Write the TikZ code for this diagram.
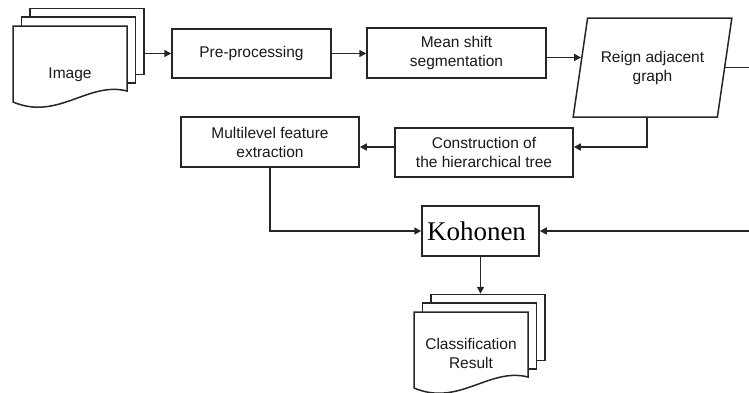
\documentclass[tikz,border=0pt]{standalone}
\usepackage{fontspec}
\setmainfont{Liberation Sans}
\newfontfamily\serifkoh{Liberation Serif}
\usetikzlibrary{shapes.geometric,arrows.meta,calc}

% stack of three pages: name, top left of the front page, text height, text
\newcommand\docstack[4]{%
  \begin{scope}[shift={#2}]
    \node[page] (#1-back) at (74,15.5) {};
    \node[page] (#1-mid) at (65.5,24) {};
    \filldraw[frame] (0,0) -- (114,0) -- (114,65)
      .. controls (75,55) and (45,95) .. (0,76) -- cycle;
    \node[doctext] (#1) at (57,#3) {#4};
  \end{scope}}

\begin{document}
\begin{tikzpicture}[x=1pt, y=-1pt,
    frame/.style={draw=black!85, line width=1.5pt, fill=white},
    box/.style={frame, rectangle, minimum height=49pt, align=center, text=black!90, font=\fontsize{15.5}{19}\selectfont},
    page/.style={frame, rectangle, minimum width=114pt, minimum height=66pt},
    doctext/.style={align=center, text=black!90, font=\fontsize{15.5}{19}\selectfont},
    arr/.style={draw=black!85, line width=1.5pt, -{Triangle[length=7pt,width=7pt]}}
  ]
  \useasboundingbox (0,0) rectangle (749,392);

  \docstack{img}{(13,26)}{49}{Image}
  \node[box, minimum width=159pt] (pre) at (251.5,53.5) {Pre-processing};
  \node[box, minimum width=179pt, minimum height=50pt] (mean) at (456.5,53) {Mean shift\\segmentation};
  \node[box, trapezium, trapezium left angle=73, trapezium right angle=107, trapezium stretches=true,
        minimum width=159pt, minimum height=99pt] (rag) at (652.5,67.5) {Reign adjacent\\graph};
  \node[box, minimum width=178pt] (cons) at (484,152.5) {Construction of\\the hierarchical tree};
  \node[box, minimum width=178pt, minimum height=50pt] (multi) at (270,142) {Multilevel feature\\extraction};
  \node[box, minimum width=117pt, minimum height=50pt, text=black, font=\serifkoh\fontsize{27}{30}\selectfont] (koh) at (480.5,231) {\hspace*{-8pt}Kohonen};
  \docstack{cls}{(414,312)}{41}{Classification\\Result}

  \coordinate (ragin) at ($(rag.top left corner)!0.4!(rag.bottom left corner)$);

  \draw[arr] (img-back.east |- pre.west) -- (pre.west);
  \draw[arr] (pre.east) -- (pre.east -| mean.west);
  \draw[arr] (mean.east |- ragin) -- (ragin);
  \draw[arr] ([xshift=-5.5pt]rag.south) |- ([yshift=5.5pt]cons.east);
  \draw[arr] ([yshift=5.5pt]cons.west) -- ([yshift=5.5pt]cons.west -| multi.east);
  \draw[arr] (multi.south) |- (koh.west);
  \draw[arr] (rag.east) -- ++(45,0) |- (koh.east);
  \draw[arr] (koh.south) -- (koh.south |- cls-back.north);
\end{tikzpicture}
\end{document}
